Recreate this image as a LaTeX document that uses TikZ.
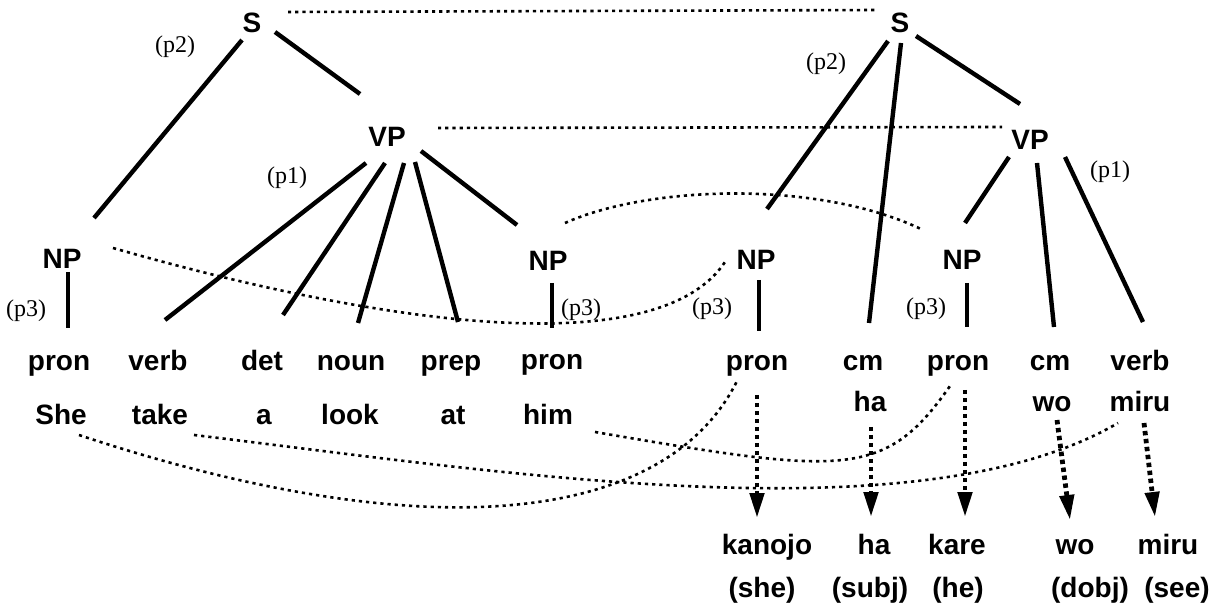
\documentclass[tikz,border=0pt]{standalone}
\usepackage{fontspec}
\usetikzlibrary{calc,arrows.meta}
\newfontfamily\lblfont{Liberation Sans}
\newfontfamily\rulfont{Liberation Serif}
\tikzset{every picture/.style={line width=0.75pt}}
\tikzset{
  lbl/.style={font=\lblfont\bfseries\fontsize{14}{16}\selectfont, inner sep=0pt, anchor=base},
  rul/.style={font=\rulfont\fontsize{12}{14}\selectfont, inner sep=0pt},
  branch/.style={line width=2.2pt},
  link/.style={line width=1.3pt, dash pattern=on 1.6pt off 2pt},
  xfer/.style={line width=2.4pt, dash pattern=on 2.2pt off 1.8pt, -{Triangle[length=12.5pt,width=7pt]}},
}
\begin{document}
\begin{tikzpicture}[x=0.5pt,y=0.5pt,yscale=-1,xscale=1]
\useasboundingbox (0,0) rectangle (1214,608);

% English tree: categories
\node[lbl] (sL) at (252,33) {S};
\node[lbl] (vpL) at (387,147) {VP};
\node[lbl] (npL) at (62,269) {NP};
\node[lbl] (npM) at (548,271) {NP};
% Japanese tree: categories
\node[lbl] (sR) at (900,33) {S};
\node[lbl] (vpR) at (1030,150) {VP};
\node[lbl] (npJa) at (756,270) {NP};
\node[lbl] (npJb) at (962,270) {NP};

% parts of speech
\node[lbl] (pronL) at (59,371) {pron};
\node[lbl] (verbL) at (158,371) {verb};
\node[lbl] (detL) at (262,371) {det};
\node[lbl] (nounL) at (351,371) {noun};
\node[lbl] (prepL) at (451,371) {prep};
\node[lbl] (pronM) at (552,370) {pron};
\node[lbl] (pronJa) at (757,371) {pron};
\node[lbl] (cmJa) at (863,371) {cm};
\node[lbl] (pronJb) at (958,371) {pron};
\node[lbl] (cmJb) at (1050,371) {cm};
\node[lbl] (verbJ) at (1140,371) {verb};

% words
\node[lbl] (she) at (61,425) {She};
\node[lbl] (take) at (160,425) {take};
\node[lbl] (a) at (264,425) {a};
\node[lbl] (look) at (350,425) {look};
\node[lbl] (at) at (453,425) {at};
\node[lbl] (him) at (548,425) {him};
\node[lbl] (haJ) at (870,412) {ha};
\node[lbl] (woJ) at (1052,412) {wo};
\node[lbl] (miruJ) at (1140,412) {miru};

% generated Japanese and glosses
\node[lbl] (kanojo) at (767,554) {kanojo};
\node[lbl] (haK) at (874,554) {ha};
\node[lbl] (kare) at (957,554) {kare};
\node[lbl] (woK) at (1075,554) {wo};
\node[lbl] (miruK) at (1168,554) {miru};
\node[lbl] (glShe) at (762,597) {(she)};
\node[lbl] (glSubj) at (870,597) {(subj)};
\node[lbl] (glHe) at (958,597) {(he)};
\node[lbl] (glDobj) at (1090,597) {(dobj)};
\node[lbl] (glSee) at (1177,597) {(see)};

% rule labels
\node[rul] (p2L) at (175,47) {(p2)};
\node[rul] (p1L) at (287,178) {(p1)};
\node[rul] (p3L) at (26,311) {(p3)};
\node[rul] (p3M) at (581,310) {(p3)};
\node[rul] (p2R) at (826,64) {(p2)};
\node[rul] (p1R) at (1110,172) {(p1)};
\node[rul] (p3Ja) at (712,309) {(p3)};
\node[rul] (p3Jb) at (926,309) {(p3)};

% English branches
\draw[branch] ($(sL.base)+(-10,7)$) -- ($(npL.base)+(32,-51)$);
\draw[branch] ($(sL.base)+(23,-1)$) -- ($(vpL.base)+(-27,-53)$);
\draw[branch] ($(vpL.base)+(-21,16)$) -- ($(verbL.base)+(7,-51)$);
\draw[branch] ($(vpL.base)+(-2,16)$) -- ($(detL.base)+(21,-56)$);
\draw[branch] ($(vpL.base)+(17,16)$) -- ($(nounL.base)+(7,-48)$);
\draw[branch] ($(vpL.base)+(28,15)$) -- ($(prepL.base)+(7,-49)$);
\draw[branch] ($(vpL.base)+(34,4)$) -- ($(npM.base)+(-31,-46)$);
\draw[branch] ($(npL.base)+(6,3)$) -- ($(pronL.base)+(9,-43)$);
\draw[branch] ($(npM.base)+(4,12)$) -- ($(pronM.base)+(0,-42)$);
% Japanese branches
\draw[branch] ($(sR.base)+(-12,8)$) -- ($(npJa.base)+(11,-61)$);
\draw[branch] ($(sR.base)+(1,10)$) -- ($(cmJa.base)+(6,-48)$);
\draw[branch] ($(sR.base)+(16,3)$) -- ($(vpR.base)+(-10,-46)$);
\draw[branch] ($(vpR.base)+(-21,7)$) -- ($(npJb.base)+(3,-47)$);
\draw[branch] ($(vpR.base)+(7,13)$) -- ($(cmJb.base)+(4,-44)$);
\draw[branch] ($(vpR.base)+(35,7)$) -- ($(verbJ.base)+(3,-49)$);
\draw[branch] ($(npJa.base)+(3,10)$) -- ($(pronJa.base)+(2,-40)$);
\draw[branch] ($(npJb.base)+(5,13)$) -- ($(pronJb.base)+(9,-44)$);

% correspondences
\draw[link] ($(sL.base)+(36,-21)$) -- ($(sR.base)+(-22,-23)$);
\draw[link] ($(vpL.base)+(51,-19)$) -- ($(vpR.base)+(-28,-23)$);
\draw[link] ($(npL.base)+(51,-21)$) .. controls +(287,82) and +(-65,98) .. ($(npJa.base)+(-31,-8)$);
\draw[link] ($(npM.base)+(17,-48)$) .. controls +(85,-38) and +(-103,-50) .. ($(npJb.base)+(-39,-40)$);
\draw[link] ($(she.base)+(18,10)$) .. controls +(350,116) and +(-70,145) .. ($(pronJa.base)+(-19,8)$);
\draw[link] ($(take.base)+(34,10)$) .. controls +(300,36) and +(-200,117) .. ($(miruJ.base)+(-22,11)$);
\draw[link] ($(him.base)+(47,7)$) .. controls +(250,43) and +(-65,93) .. ($(pronJb.base)+(-8,15)$);

% generation
\draw[xfer] ($(pronJa.base)+(0,24)$) -- ($(kanojo.base)+(-10,-36)$);
\draw[xfer] ($(haJ.base)+(1,15)$) -- ($(haK.base)+(-3,-37)$);
\draw[xfer] ($(pronJb.base)+(7,19)$) -- ($(kare.base)+(8,-37)$);
\draw[xfer] ($(woJ.base)+(5,8)$) -- ($(woK.base)+(-5,-34)$);
\draw[xfer] ($(miruJ.base)+(4,11)$) -- ($(miruK.base)+(-13,-37)$);

\end{tikzpicture}
\end{document}
